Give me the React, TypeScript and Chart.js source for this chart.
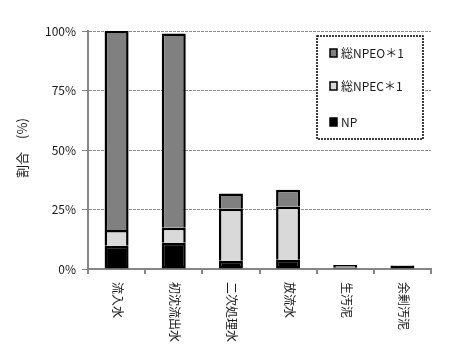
import React, { useEffect, useRef } from "react";
import { Chart, registerables } from "chart.js";

Chart.register(...registerables);

const categories = ["流入水", "初沈流出水", "二次処理水", "放流水", "生汚泥", "余剰汚泥"];
const npValues = [9.8, 11.0, 3.5, 3.9, 0.4, 1.3];
const npecValues = [6.6, 6.3, 21.8, 22.4, 0.3, 0.1];
const npeoValues = [83.6, 81.6, 6.4, 7.0, 1.0, 0.2];
const yTicks = [0, 25, 50, 75, 100];
const yTitle = "割合　(%)";
const seriesNames = ["総NPEO＊1", "総NPEC＊1", "NP"];
const seriesColors = ["#808080", "#d9d9d9", "#000000"];

const FONT = '"Noto Sans CJK JP", "Noto Sans", sans-serif';

const customPlugin = {
  id: "custom",
  afterDraw(chart: any) {
    const ctx = chart.ctx;
    const xs = chart.scales.x;
    const area = chart.chartArea;
    ctx.save();
    ctx.fillStyle = "#1a1a1a";
    ctx.font = `12px ${FONT}`;
    categories.forEach((c, i) => {
      const x = xs.getPixelForValue(i);
      ctx.save();
      ctx.translate(x + 1, area.bottom + 13);
      ctx.rotate(Math.PI / 2);
      ctx.textAlign = "left";
      ctx.textBaseline = "middle";
      ctx.fillText(c, 0, 0);
      ctx.restore();
    });
    ctx.save();
    ctx.font = `13px ${FONT}`;
    ctx.translate(22, (area.top + area.bottom) / 2 - 2);
    ctx.rotate(-Math.PI / 2);
    ctx.textAlign = "center";
    ctx.textBaseline = "middle";
    ctx.fillText(yTitle, 0, 0);
    ctx.restore();
    const lx = 317, ly = 36, lw = 106, lh = 103;
    ctx.fillStyle = "#ffffff";
    ctx.fillRect(lx, ly, lw, lh);
    ctx.strokeStyle = "#000";
    ctx.lineWidth = 1.5;
    ctx.setLineDash([2, 1]);
    ctx.strokeRect(lx, ly, lw, lh);
    ctx.setLineDash([]);
    const rowsY = [53, 86, 122];
    seriesNames.forEach((n, i) => {
      const y = rowsY[i];
      ctx.fillStyle = seriesColors[i];
      ctx.fillRect(330, y - 4, 7, 8);
      ctx.strokeStyle = "#000";
      ctx.lineWidth = 1.5;
      ctx.strokeRect(330, y - 4, 7, 8);
      ctx.fillStyle = "#1a1a1a";
      ctx.textAlign = "left";
      ctx.textBaseline = "middle";
      ctx.fillText(n, 341, y);
    });
    ctx.restore();
  },
};

export default function App() {
  const ref = useRef<HTMLCanvasElement>(null);
  useEffect(() => {
    const canvas = ref.current!;
    const common = { borderColor: "#000", borderWidth: 2.5, stack: "s", clip: false as any, inflateAmount: 0 };
    const chart = new Chart(canvas, {
      type: "bar",
      data: {
        labels: categories,
        datasets: [
          { label: "NP", data: npValues, backgroundColor: seriesColors[2], borderSkipped: false as any, ...common },
          { label: seriesNames[1], data: npecValues, backgroundColor: seriesColors[1], borderSkipped: "start", ...common },
          { label: seriesNames[0], data: npeoValues, backgroundColor: seriesColors[0], borderSkipped: "start", ...common },
        ],
      },
      options: {
        animation: false,
        responsive: false,
        maintainAspectRatio: false,
        layout: { padding: { top: 31, right: 27, left: 0, bottom: 0 } },
        datasets: { bar: { barPercentage: 0.42, categoryPercentage: 1 } },
        plugins: { legend: { display: false }, tooltip: { enabled: false }, title: { display: false } },
        scales: {
          x: {
            stacked: true,
            offset: true,
            ticks: { display: false },
            grid: { drawOnChartArea: false, drawTicks: true, tickLength: 5, color: "#868686", lineWidth: 2, offset: true },
            border: { color: "#868686", width: 2 },
            afterFit(scale: any) { scale.height = 354 - 269; },
          },
          y: {
            stacked: true,
            min: 0,
            max: 100,
            afterBuildTicks(scale: any) { scale.ticks = yTicks.map((v) => ({ value: v })); },
            ticks: {
              callback: (v: any) => v + "%",
              font: { family: FONT, size: 12 },
              color: "#1a1a1a",
              padding: 6,
            },
            grid: { color: "#8a8a8a", lineWidth: 1, tickLength: 6, tickBorderDash: [], tickColor: "#868686" } as any,
            border: { color: "#868686", width: 2, dash: [3, 1] } as any,
            afterFit(scale: any) { scale.width = 88; },
          },
        },
      },
      plugins: [customPlugin],
    });
    return () => chart.destroy();
  }, []);
  return (
    <div style={{ position: "fixed", left: 0, top: 0, width: 458, height: 354, background: "#fff" }}>
      <canvas ref={ref} width={458} height={354} style={{ width: 458, height: 354 }} />
    </div>
  );
}
